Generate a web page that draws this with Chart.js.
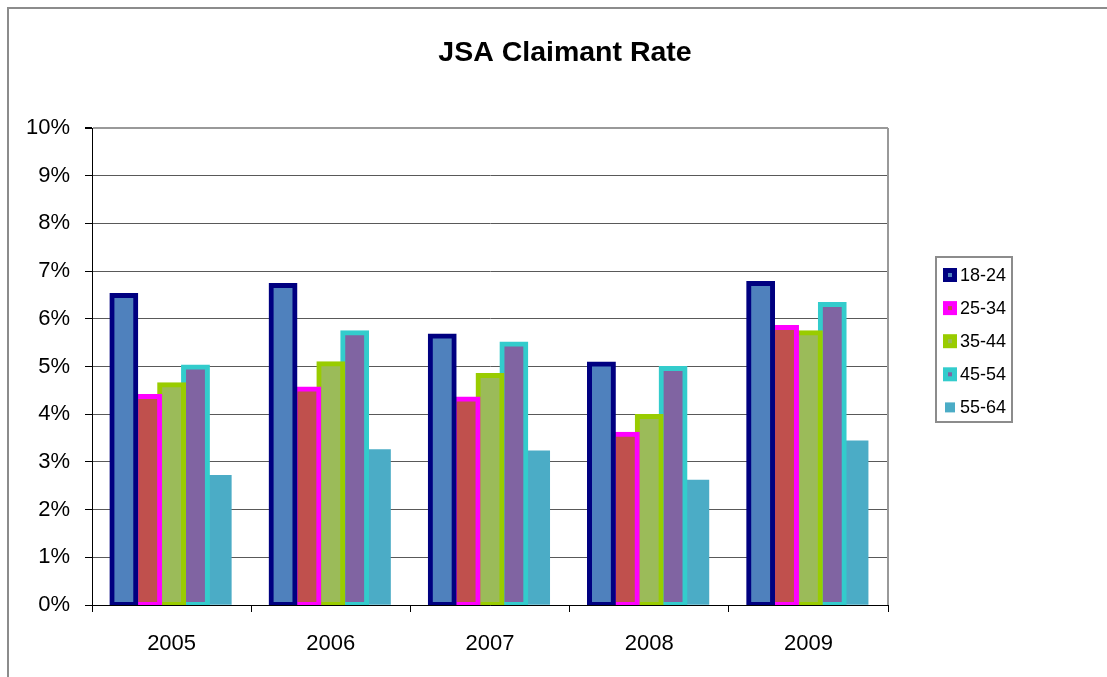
<!DOCTYPE html>
<html>
<head>
<meta charset="utf-8">
<title>JSA Claimant Rate</title>
<script src="https://cdn.jsdelivr.net/npm/chart.js@4.4.1/dist/chart.umd.min.js"></script>
<style>
  html, body { margin: 0; padding: 0; background: #fff; }
</style>
</head>
<body>
<canvas id="chart" width="1107" height="677"></canvas>
<script>
// data (percent)
const years = ["2005", "2006", "2007", "2008", "2009"];
const ageGroups = ["18-24", "25-34", "35-44", "45-54", "55-64"];
const age18to24 = [6.49, 6.70, 5.64, 5.05, 6.74];
const age25to34 = [4.37, 4.53, 4.32, 3.58, 5.82];
const age35to44 = [4.62, 5.06, 4.81, 3.95, 5.71];
const age45to54 = [4.99, 5.71, 5.47, 4.96, 6.30];
const age55to64 = [2.72, 3.26, 3.23, 2.62, 3.44];
const yMax = 10;
const yStep = 1;

const fills = ["#4F81BD", "#C0504D", "#9BBB59", "#8064A2", "#4BACC6"];
const edges = ["#000080", "#FF00FF", "#99CC00", "#33CCCC", null];
const series = [age18to24, age25to34, age35to44, age45to54, age55to64];

const FONT = "'Liberation Sans', Arial, sans-serif";

const datasets = series.map((values, i) => ({
  label: ageGroups[i],
  data: values,
  backgroundColor: fills[i],
  borderColor: edges[i] || fills[i],
  borderWidth: edges[i] ? 5 : 0,
  borderSkipped: false,
  inflateAmount: edges[i] ? 2.5 : 0.33,
  categoryPercentage: 0.75,
  barPercentage: 1.0,
}));

// frame, title, plot border and the boxed legend
const decorations = {
  id: "decorations",
  afterDraw(chart) {
    const { ctx, chartArea } = chart;
    ctx.save();

    // outer frame (runs off the right and bottom)
    ctx.strokeStyle = "#8c8c8c";
    ctx.lineWidth = 2;
    ctx.beginPath();
    ctx.moveTo(8, 677);
    ctx.lineTo(8, 8);
    ctx.lineTo(1107, 8);
    ctx.stroke();

    // plot area right border
    ctx.strokeStyle = "#999";
    ctx.lineWidth = 2;
    ctx.beginPath();
    ctx.moveTo(chartArea.right, chartArea.top);
    ctx.lineTo(chartArea.right, chartArea.bottom);
    ctx.stroke();

    // title
    ctx.fillStyle = "#000";
    ctx.font = "bold 28.5px " + FONT;
    ctx.textAlign = "center";
    ctx.textBaseline = "alphabetic";
    ctx.fillText("JSA Claimant Rate", 565, 61);

    // legend
    const lx = 936, ly = 257, lw = 76, lh = 165;
    ctx.strokeStyle = "#8c8c8c";
    ctx.lineWidth = 2;
    ctx.strokeRect(lx, ly, lw, lh);
    ctx.font = "18px " + FONT;
    ctx.textAlign = "left";
    ctx.textBaseline = "middle";
    chart.data.datasets.forEach((ds, i) => {
      const cy = ly + 18 + i * 33.1;
      const cx = 950;
      if (ds.borderWidth > 0) {
        ctx.fillStyle = ds.borderColor;
        ctx.fillRect(cx - 7, cy - 7, 14, 14);
        ctx.fillStyle = ds.backgroundColor;
        ctx.fillRect(cx - 2, cy - 2, 4, 4);
      } else {
        ctx.fillStyle = ds.backgroundColor;
        ctx.fillRect(cx - 5, cy - 5, 10, 10);
      }
      ctx.fillStyle = "#000";
      ctx.fillText(ds.label, 960, cy + 1);
    });

    ctx.restore();
  }
};

new Chart(document.getElementById("chart"), {
  type: "bar",
  data: { labels: years, datasets },
  options: {
    responsive: false,
    animation: false,
    devicePixelRatio: 1,
    layout: { padding: { top: 128, left: 8, right: 219, bottom: 0 } },
    plugins: {
      legend: { display: false },
      title: { display: false },
      tooltip: { enabled: false },
    },
    scales: {
      x: {
        afterFit(scale) { scale.height = 72; },
        grid: {
          offset: true,
          drawOnChartArea: false,
          tickLength: 7,
          tickColor: "#000",
        },
        border: { color: "#000", width: 1 },
        ticks: {
          color: "#000",
          font: { family: FONT, size: 22 },
          padding: 19,
        },
      },
      y: {
        min: 0,
        max: yMax,
        afterFit(scale) { scale.width = 84; },
        grid: {
          color: (c) => (c.tick && c.tick.value === yMax ? "#999" : "#595959"),
          lineWidth: (c) => (c.tick && c.tick.value === yMax ? 2 : 1),
          tickLength: 7,
          tickColor: "#000",
        },
        border: { color: "#000", width: 1 },
        ticks: {
          stepSize: yStep,
          color: "#000",
          font: { family: FONT, size: 22 },
          padding: 15,
          callback: (v) => v + "%",
        },
      },
    },
  },
  plugins: [decorations],
});
</script>
</body>
</html>
